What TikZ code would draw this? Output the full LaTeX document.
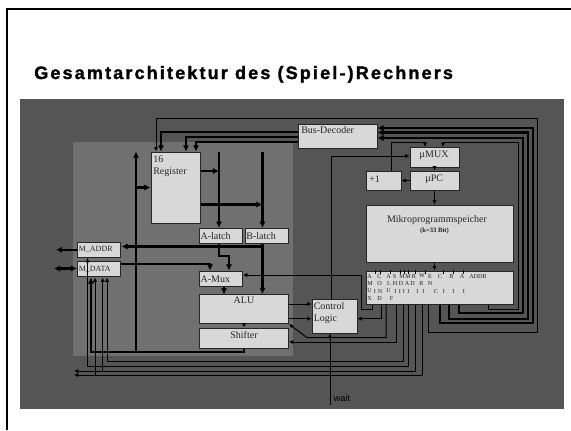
\documentclass[tikz,border=0pt]{standalone}
\usepackage{fontspec}
\usepackage{xcolor}
\setmainfont{Liberation Serif}
\newfontfamily\titlefont[LetterSpace=12,BoldFeatures={FakeBold=1.6}]{Liberation Sans}
\newfontfamily\waitfont{Liberation Sans}
\usepackage{tikz}
\usetikzlibrary{arrows.meta}
\definecolor{outergrey}{HTML}{555555}
\definecolor{innergrey}{HTML}{707070}
\definecolor{boxgrey}{HTML}{D8D8D8}
\definecolor{edgegrey}{HTML}{262626}

\begin{document}
\begin{tikzpicture}[x=0.75pt,y=-0.75pt]
	    \tikzstyle{block}=[draw=edgegrey,fill=boxgrey,line width=0.75pt,inner sep=0pt,font=\fontsize{7.5}{9}\selectfont,text=black!85]
	    \tikzstyle{leftbox}=[block,text width=30.6pt,align=left]
	    \tikzstyle{mem}=[leftbox,font=\fontsize{6}{7}\selectfont]
	    \tikzstyle{txt}=[inner sep=0pt,font=\fontsize{7.5}{9}\selectfont,align=left,text=black!85]
	    \tikzstyle{bit}=[inner sep=0pt,font=\fontsize{4.6}{5}\selectfont,text=black!85]
	    \tikzstyle{sig}=[line width=0.75pt,-{Latex[length=3.2pt,width=3.2pt]},line join=miter]
	    \tikzstyle{wire}=[line width=0.75pt]
	    \tikzstyle{bus}=[line width=1.7pt,-{Latex[length=4.6pt,width=4.8pt]},line join=miter]

	    \useasboundingbox (0,0) rectangle (571,430);
	    \fill[outergrey] (20,99) rectangle (564,409);
	    \fill[innergrey] (73,142) rectangle (293,356);
	    \draw[line width=1.7pt] (571,9) -- (7,9) -- (7,430);

	    \node[anchor=base west,inner sep=0pt,font=\fontsize{13.5}{15}\titlefont\bfseries](title) at (34,79){Gesamtarchitektur des (Spiel-)Rechners};

	    \node[block,minimum width=36.75pt,minimum height=53.25pt](reg) at (175.5,187.5){};
	    \node[leftbox,minimum width=32.25pt,minimum height=11.6pt](alatch) at (221,236){A-latch};
	    \node[leftbox,minimum width=32.6pt,minimum height=11.6pt](blatch) at (266.75,236){B-latch};
	    \node[mem,minimum width=32.6pt,minimum height=11.6pt](maddr) at (99.25,249.75){M\_ADDR};
	    \node[mem,minimum width=32.6pt,minimum height=11.6pt](mdata) at (99.25,269.25){M\_DATA};
	    \node[leftbox,minimum width=32.25pt,minimum height=11.6pt](amux) at (221,278.75){A-Mux};
	    \node[block,minimum width=66.75pt,minimum height=21.75pt](alu) at (244,309){};
	    \node[block,minimum width=66.75pt,minimum height=15pt](shifter) at (244,338){};
	    \node[block,minimum width=33.75pt,minimum height=25.5pt](ctrl) at (334.5,316){};
	    \node[block,minimum width=59.25pt,minimum height=18pt](dec) at (337.5,136){};
	    \node[block,minimum width=36.75pt,minimum height=15pt](mmux) at (434.5,157){};
	    \node[block,minimum width=36.75pt,minimum height=14.25pt](mpc) at (434.5,180.5){};
	    \node[block,minimum width=26.25pt,minimum height=14.25pt](inc) at (383.5,180.5){};
	    \node[block,minimum width=110.25pt,minimum height=42.75pt](rom) at (439.5,233.5){};
	    \node[block,minimum width=110.25pt,minimum height=24.75pt](mir) at (439.5,287.5){};

	    \node[txt,anchor=north west](regtxt) at (153,155.5){16\\Register};
	    \node[txt,anchor=north](alutxt) at (244,297){ALU};
	    \node[txt](shiftertxt) at (244,335){Shifter};
	    \node[txt](mmuxtxt) at (434,155){µMUX};
	    \node[txt](mpctxt) at (434,179){µPC};
	    \node[txt,anchor=north west](ctrltxt) at (313.5,302.5){Control\\Logic};
	    \node[txt,anchor=north west](dectxt) at (301,126){Bus-Decoder};
	    \node[txt,anchor=west](inctxt) at (369,179){+1};
	    \node[txt,anchor=center](romtxt) at (437,220){Mikroprogrammspeicher};
	    \node[txt,anchor=center,font=\fontsize{5}{6}\selectfont\bfseries](romsub) at (434.5,231){(k=33 Bit)};
	    \node[inner sep=0pt,font=\fontsize{7}{8}\waitfont,text=black](wait) at (342,398){wait};

	    % microinstruction fields
	    \node[bit](a1) at (369.5,276){A};
	    \node[bit](a2) at (379.5,276){C};
	    \node[bit](a3) at (388.5,276){A};
	    \node[bit](a4) at (394.5,276){S};
	    \node[bit](a5) at (402,276){M};
	    \node[bit](a6) at (408,276){M};
	    \node[bit](a7) at (414,276){R};
	    \node[bit](a8) at (422,276){W};
	    \node[bit](a9) at (430,276){E};
	    \node[bit](a10) at (440,276){C};
	    \node[bit](a11) at (451.5,276){B};
	    \node[bit](a12) at (462,276){A};
	    \node[bit](a13) at (478,276){ADDR};
	    \node[bit](b1) at (370,283.5){M};
	    \node[bit](b2) at (379.5,283.5){O};
	    \node[bit](b3) at (389,283.5){L};
	    \node[bit](b4) at (395,283.5){H};
	    \node[bit](b5) at (401,283.5){D};
	    \node[bit](b6) at (407,283.5){A};
	    \node[bit](b7) at (412.5,283.5){D};
	    \node[bit](b8) at (421.5,283.5){R};
	    \node[bit](b9) at (430,283.5){N};
	    \node[bit](c1) at (369.5,291){U};
	    \node[bit](c2) at (375,291){I};
	    \node[bit](c3) at (380,291){N};
	    \node[bit](c4) at (388.5,291){U};
	    \node[bit](c5) at (395.5,291){I};
	    \node[bit](c6) at (400,291){I};
	    \node[bit](c7) at (404,291){I};
	    \node[bit](c8) at (408.5,291){I};
	    \node[bit](c9) at (417.5,291){I};
	    \node[bit](c10) at (423.5,291){I};
	    \node[bit](c11) at (436,291){C};
	    \node[bit](c12) at (444,291){I};
	    \node[bit](c13) at (453.5,291){I};
	    \node[bit](c14) at (464,291){I};
	    \node[bit](d1) at (369.5,298.5){X};
	    \node[bit](d2) at (379.5,298.5){D};
	    \node[bit](d3) at (391.5,298.5){F};
	    \draw[wire] (375.7,269.5) -- (375.7,274) (380,269.5) -- (380,274) (390,269.5) -- (390,274) (400,269.5) -- (400,274) (404,269.5) -- (404,274) (408,269.5) -- (408,274) (415,269.5) -- (415,274) (425,269.5) -- (425,274) (443,269.5) -- (443,274) (453,269.5) -- (453,274) (463,269.5) -- (463,274);

	    % turning points
	    \coordinate(top) at (537,118);
	    \coordinate(rin) at (156,118);
	    \coordinate(b1) at (161,132);
	    \coordinate(b2) at (186,137);
	    \coordinate(b3) at (196,142);
	    \coordinate(r1) at (533,128);
	    \coordinate(r2) at (528,132.5);
	    \coordinate(r3) at (523,138);
	    \coordinate(r4) at (518,142);
	    \coordinate(m1) at (440,323);
	    \coordinate(m2) at (449,318.7);
	    \coordinate(m3) at (459,313);
	    \coordinate(m4) at (488,309);
	    \coordinate(m5) at (428,332);
	    \coordinate(busa) at (219,171);
	    \coordinate(busb) at (262.5,204.5);
	    \coordinate(busc) at (136,352);
	    \coordinate(busd) at (91,352);
	    \coordinate(stub) at (229,256);
	    \coordinate(tapb) at (262.5,246.5);
	    \coordinate(tapd) at (210,264);
	    \coordinate(loop) at (391,142);
	    \coordinate(mux) at (331,156);
	    \coordinate(muxin) at (361,275);
	    \coordinate(s0) at (372,309);
	    \coordinate(s2) at (381,318.7);
	    \coordinate(s3) at (386,337.7);
	    \coordinate(s4) at (307,337.7);
	    \coordinate(s5) at (396,342);
	    \coordinate(l1) at (403,361);
	    \coordinate(l2) at (408,366);
	    \coordinate(l3) at (415,371);
	    \coordinate(l4) at (422.7,375);
	    \coordinate(p1) at (107,361);
	    \coordinate(p2) at (87.5,366);
	    \coordinate(p3) at (102.7,371);
	    \coordinate(p4) at (95,375);
	    \coordinate(e1) at (74,371);
	    \coordinate(e2) at (74,375);
	    \coordinate(ae) at (56,249.75);
	    \coordinate(de) at (54,268.5);
	    \coordinate(we) at (330,405);
	    \coordinate(aluout) at (288.5,304);
	    \coordinate(inr) at (425,147);
	    \coordinate(inl) at (443,147);

	    \draw[sig] (m5 |- mir.south) -- (m5) -- (top |- m5) -- (top) -- (rin) -- (rin |- reg.north);
	    \draw[bus] (dec.west |- b1) -- (b1) -- (b1 |- reg.north);
	    \draw[bus] (dec.west |- b2) -- (b2) -- (b2 |- reg.north);
	    \draw[bus] (dec.west |- b3) -- (b3) -- (b3 |- reg.north);

	    \draw[bus] (m1 |- mir.south) -- (m1) -- (r1 |- m1) -- (r1) -- (dec.east |- r1);
	    \draw[bus] (m2 |- mir.south) -- (m2) -- (r2 |- m2) -- (r2) -- (dec.east |- r2);
	    \draw[bus] (m3 |- mir.south) -- (m3) -- (r3 |- m3) -- (r3) -- (dec.east |- r3);
	    \draw[sig] (m4 |- mir.south) -- (m4) -- (r4 |- m4) -- (r4) -- (inl |- r4) -- (inl);
	    \draw[sig] (inc.north -| loop) -- (loop) -- (inr |- loop) -- (inr);

	    \draw[sig] (mpc.west) -- (inc.east);
	    \draw[sig] (mmux.south) -- (mpc.north);
	    \draw[sig] (mpc.south) -- (mpc.south |- rom.north);
	    \draw[sig] (mpc.south |- rom.south) -- (mpc.south |- mir.north);
	    \draw[sig] (ctrl.north -| mux) -- (mux) -- (mmux.west |- mux);

	    \draw[bus] (reg.east |- busa) -- (busa);
	    \draw[bus] (reg.east |- busb) -- (busb);
	    \draw[bus] (busa |- reg.north) -- (busa |- alatch.north);
	    \draw[bus] (busb |- reg.north) -- (busb |- blatch.north);
	    \draw[bus] (busc) -- (busc |- reg.north);
	    \draw[bus] (busc |- reg.west) -- (reg.west);
	    \draw[bus] (shifter.south) -- (shifter.south |- busd) -- (busd) -- (busd |- mdata.south);
	    \draw[bus] (busa |- alatch.south) -- (busa |- stub) -- (stub) -- (stub |- amux.north);
	    \draw[bus] (busb |- blatch.south) -- (busb |- alu.north);
	    \draw[bus] (tapb) -- (maddr.east |- tapb);
	    \draw[bus] (maddr.west) -- (ae);
	    \draw[bus,{Latex[length=4.6pt,width=4.8pt]}-{Latex[length=4.6pt,width=4.8pt]}] (de) -- (mdata.west |- de);
	    \draw[bus] (mdata.east |- tapd) -- (tapd) -- (tapd |- amux.north);
	    \draw[bus] (224,286.5) -- (224,294.5);
	    \draw[sig] (alu.south) -- (shifter.north);

	    \draw[sig] (s0 |- mir.south) -- (s0) -- (muxin |- s0) -- (muxin) -- (amux.east |- muxin);
	    \draw[sig] (aluout) -- (ctrl.west |- aluout);
	    \draw[sig] (alu.east |- s2) -- (ctrl.west |- s2);
	    \draw[sig] (s2 |- mir.south) -- (s2) -- (ctrl.east |- s2);
	    \draw[sig] (s3 |- mir.south) -- (s3) -- (s4) -- (alu.south east);
	    \draw[sig] (s5 |- mir.south) -- (s5) -- (shifter.east |- s5);

	    \draw[sig] (l1 |- mir.south) -- (l1) -- (p1) -- (p1 |- mdata.south);
	    \draw[sig] (l2 |- mir.south) -- (l2) -- (p2) -- (p2 |- maddr.south);
	    \draw[sig] (l3 |- mir.south) -- (l3) -- (e1);
	    \draw[sig] (l4 |- mir.south) -- (l4) -- (e2);
	    \draw[sig] (p3) -- (p3 |- mdata.south);
	    \draw[sig] (p4) -- (p4 |- mdata.south);
	    \draw[sig] (we) -- (we |- ctrl.south);
\end{tikzpicture}
\end{document}
